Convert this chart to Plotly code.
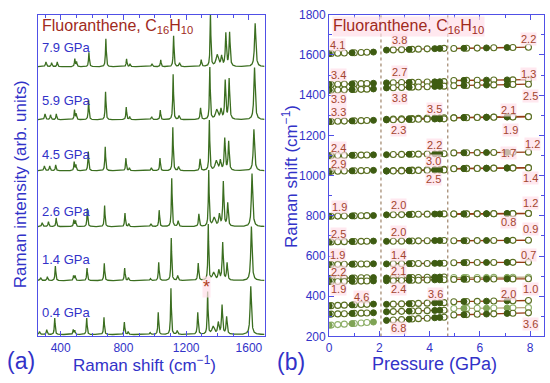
import numpy as np
import plotly.graph_objects as go

# ---------------- Panel (a): Raman spectra (peak lists) ----------------
spec_labels = ["0.4 GPa", "1.4 GPa", "2.6 GPa", "4.5 GPa", "5.9 GPa", "7.9 GPa"]
spec_offsets = [0, 56, 112, 170, 223, 278]

peak_pos_04 = [265, 311, 362, 480, 490, 566, 676, 806, 830, 970, 1022, 1103, 1143, 1274, 1337, 1372, 1405, 1429, 1458, 1612]
peak_pos_14 = [272, 315, 366, 482, 492, 568, 678, 808, 832, 972, 1025, 1105, 1146, 1277, 1341, 1375, 1408, 1433, 1461, 1616]
peak_pos_26 = [282, 322, 371, 484, 495, 570, 680, 810, 834, 975, 1028, 1108, 1149, 1281, 1344, 1378, 1412, 1437, 1465, 1620]
peak_pos_45 = [296, 330, 368, 486, 497, 576, 684, 816, 838, 978, 1033, 1115, 1152, 1289, 1348, 1392, 1418, 1446, 1471, 1632]
peak_pos_59 = [300, 335, 372, 488, 499, 578, 686, 818, 840, 980, 1035, 1117, 1155, 1292, 1351, 1395, 1422, 1449, 1474, 1636]
peak_pos_79 = [306, 342, 378, 490, 501, 580, 688, 820, 842, 982, 1038, 1120, 1158, 1296, 1355, 1398, 1426, 1453, 1477, 1640]

peak_h_04 = [3, 5, 17, 5, 4, 17, 18, 13, 3, 2, 23, 48, 4, 23, 44, 8, 12, 30, 18, 50]
peak_h_14 = [3, 4, 15, 5, 5, 13, 18, 13, 3, 2, 19, 44, 5, 18, 58, 8, 10, 39, 18, 56]
peak_h_26 = [4, 5, 9, 7, 6, 19, 22, 14, 3, 3, 17, 50, 6, 13, 58, 9, 12, 46, 24, 55]
peak_h_45 = [5, 5, 6, 9, 6, 20, 25, 13, 3, 3, 13, 45, 4, 12, 52, 10, 10, 33, 30, 43]
peak_h_59 = [6, 5, 6, 10, 6, 20, 29, 13, 3, 3, 10, 47, 4, 12, 54, 10, 10, 40, 42, 54]
peak_h_79 = [5, 4, 5, 8, 5, 15, 29, 8, 3, 3, 7, 32, 4, 7, 54, 12, 10, 34, 35, 45]

peak_w = [8, 7, 6, 6, 6, 6, 6, 6, 6, 8, 6, 6, 8, 7, 6, 18, 10, 8, 8, 10]

all_pos = [peak_pos_04, peak_pos_14, peak_pos_26, peak_pos_45, peak_pos_59, peak_pos_79]
all_h = [peak_h_04, peak_h_14, peak_h_26, peak_h_45, peak_h_59, peak_h_79]

# ---------------- Panel (b): pressure dependence ----------------
seg1_open_p = [0.08, 0.34, 0.6, 1.0, 1.27, 1.5]
seg1_fill_p = [0.0, 0.91, 1.76]
seg2_open_p = [2.55, 2.88, 3.3, 3.55, 3.9, 4.57]
seg2_fill_p = [2.28, 3.18, 4.2, 4.4]
seg3_open_p = [4.96, 5.47, 5.89, 6.55, 7.31, 7.93]
seg3_fill_p = [5.36, 6.26, 7.08]

seg1_f0 = [1607, 1453, 1424, 1269, 1099, 1021, 798, 670, 558, 489, 473, 353, 311, 256]
seg1_slope = [4.1, 3.4, 3.9, 3.3, 2.4, 2.9, 1.9, 2.5, 1.9, 2.2, 1.9, 4.6, 4.0, 9.0]
seg2_f0 = [1624, 1461, 1436, 1280, 1277, 1104, 1024, 1022, 805, 673, 561, 491, 477, 360, 323, 280]
seg2_slope = [3.8, 2.7, 3.8, 3.5, 2.3, 2.2, 3.0, 2.5, 2.0, 2.0, 1.4, 2.1, 2.4, 3.6, 3.4, 6.8]
seg3_f0 = [1632, 1473, 1447, 1288, 1287, 1113, 1035, 1034, 809, 809, 676, 567, 493, 484, 373, 339, 307]
seg3_slope = [2.2, 1.3, 2.5, 2.1, 1.9, 1.2, 1.7, 1.4, 1.2, 0.8, 0.9, 0.7, 0.6, 1.0, 2.0, 1.5, 3.6]

# label placements (mode index, pressure, shift)
seg1_lab = [(0, 0.34, 1648), (1, 0.36, 1499), (2, 0.36, 1379), (3, 0.36, 1314), (4, 0.36, 1139),
            (5, 0.36, 1058), (6, 0.4, 846), (7, 0.36, 712), (8, 0.32, 606), (9, 0.36, 520),
            (10, 0.36, 438), (11, 1.27, 395)]
seg2_lab = [(0, 2.81, 1675), (1, 2.81, 1513), (2, 2.81, 1388), (3, 4.2, 1331), (4, 2.77, 1226),
            (5, 4.2, 1153), (6, 4.16, 1072), (7, 4.16, 981), (8, 2.77, 856), (9, 2.77, 722),
            (10, 2.77, 606), (11, 2.77, 525), (12, 2.77, 438), (13, 4.24, 410), (15, 2.77, 242)]
seg3_lab = [(0, 7.92, 1680), (1, 7.92, 1503), (2, 8.0, 1398), (3, 7.13, 1325), (4, 7.21, 1226),
            (5, 8.08, 1158), (6, 7.13, 1110), (7, 8.0, 990), (8, 8.0, 866), (9, 7.13, 770),
            (10, 8.0, 736), (11, 7.92, 606), (13, 8.0, 438), (14, 7.13, 410), (16, 8.0, 261)]
seg_light = [[13], [], [12, 15]]
boundaries = [2.06, 4.72]

BLUE = "#3232c8"
AXBLUE = "#5050e6"
GREEN = "#3b6e20"
LABRED = "#a3452e"
PINK = "rgba(255,222,232,0.7)"
FONT = "Arial"

fig = go.Figure()

# ---- spectra ----
x = np.arange(255, 1700.5, 0.5)
for pos, hts, off in zip(all_pos, all_h, spec_offsets):
    y = np.full_like(x, float(off))
    for c, h, w in zip(pos, hts, peak_w):
        g = (w / 2.0) ** 2
        y = y + h * g / ((x - c) ** 2 + g)
    fig.add_trace(go.Scatter(x=x, y=y, mode="lines", line=dict(color=GREEN, width=1.3),
                             xaxis="x", yaxis="y", showlegend=False, hoverinfo="skip"))

# ---- pressure plot ----
segs = [
    (seg1_f0, seg1_slope, seg1_open_p, seg1_fill_p, "#6e5a2c"),
    (seg2_f0, seg2_slope, seg2_open_p, seg2_fill_p, "#7c4622"),
    (seg3_f0, seg3_slope, seg3_open_p, seg3_fill_p, "#953c14"),
]
for si, (f0s, sls, op, fp, lc) in enumerate(segs):
    allp = sorted(op + fp)
    p0, p1 = allp[0], allp[-1]
    for mi, (f0, s) in enumerate(zip(f0s, sls)):
        light = mi in seg_light[si]
        lcol = "#b9a27a" if light else lc
        ocol = "#8fb06a" if light else "#5a6f22"
        fcol = "#7fa455" if light else "#3e5c12"
        fig.add_trace(go.Scatter(x=[p0, p1], y=[f0, f0 + s * (p1 - p0)], mode="lines",
                                 line=dict(color=lcol, width=1.3), xaxis="x2", yaxis="y2",
                                 showlegend=False, hoverinfo="skip"))
        fig.add_trace(go.Scatter(x=op, y=[f0 + s * (p - p0) for p in op], mode="markers",
                                 marker=dict(symbol="circle", size=6, color="white",
                                             line=dict(color=ocol, width=1.1)),
                                 xaxis="x2", yaxis="y2", showlegend=False, hoverinfo="skip"))
        fig.add_trace(go.Scatter(x=fp, y=[f0 + s * (p - p0) for p in fp], mode="markers",
                                 marker=dict(symbol="circle", size=6, color=fcol,
                                             line=dict(color=fcol, width=1)),
                                 xaxis="x2", yaxis="y2", showlegend=False, hoverinfo="skip"))

annotations = []
for (labs, sls) in [(seg1_lab, seg1_slope), (seg2_lab, seg2_slope), (seg3_lab, seg3_slope)]:
    for mi, px, py in labs:
        annotations.append(dict(x=px, y=py, xref="x2", yref="y2", text=f"{sls[mi]:.1f}",
                                showarrow=False, font=dict(family=FONT, size=11, color=LABRED),
                                bgcolor=PINK, borderpad=0))

shapes = []
for b in boundaries:
    shapes.append(dict(type="line", xref="x2", yref="y2", x0=b, x1=b, y0=200, y1=1800,
                       line=dict(color="#8a6a4a", width=1, dash="dot")))


def P(px, py):
    return px / 550.0, 1 - py / 383.0


def pann(px, py, text, size, color, xanchor="center", angle=0, bg=None):
    xp, yp = P(px, py)
    d = dict(x=xp, y=yp, xref="paper", yref="paper", text=text, showarrow=False,
             xanchor=xanchor, yanchor="middle", textangle=angle,
             font=dict(family=FONT, size=size, color=color))
    if bg:
        d["bgcolor"] = bg
        d["borderpad"] = 0
    annotations.append(d)


# spectrum labels
lab_y = [317, 262, 212, 153, 97, 42]
for t, yy in zip(spec_labels, lab_y):
    pann(37, yy, t, 13, BLUE, xanchor="left")

pann(37, 20, "Fluoranthene, C<sub>16</sub>H<sub>10</sub>", 16, "#a02a1c", xanchor="left")
pann(331, 20, "Fluoranthene, C<sub>16</sub>H<sub>10</sub>", 16, "#a02a1c", xanchor="left", bg=PINK)
pann(205, 291, "*", 18, "#b0401c", bg=PINK)

pann(18, 367, "(a)", 23, BLUE)
pann(290, 368, "(b)", 23, BLUE)
pann(142, 371, "Raman shift (cm<sup>−1</sup>)", 17, BLUE)
pann(434, 371, "Pressure (GPa)", 18, BLUE)
pann(17, 184, "Raman intensity (arb. units)", 17, BLUE, angle=-90)
pann(288, 176, "Raman shift (cm<sup>−1</sup>)", 17, BLUE, angle=-90)

ytop, ybot = 8, 342
ydom = [1 - ybot / 383.0, 1 - ytop / 383.0]

axcommon = dict(showline=True, linecolor=AXBLUE, linewidth=1.2, mirror="allticks",
                ticks="inside", ticklen=5, tickcolor=AXBLUE, showgrid=False, zeroline=False,
                tickfont=dict(family=FONT, size=12, color=BLUE))

fig.update_layout(
    width=550, height=383, autosize=False,
    margin=dict(l=0, r=0, t=0, b=0, pad=0),
    paper_bgcolor="white", plot_bgcolor="white",
    xaxis=dict(domain=[35 / 550, 263 / 550], range=[254, 1700], tickvals=[400, 800, 1200, 1600],
               minor=dict(ticks="inside", ticklen=3, tickcolor=AXBLUE, dtick=100, tick0=0),
               anchor="y", **axcommon),
    yaxis=dict(domain=ydom, range=[-2, 332], showticklabels=False, anchor="x",
               showline=True, linecolor=AXBLUE, linewidth=1.2, mirror=True, ticks="",
               showgrid=False, zeroline=False),
    xaxis2=dict(domain=[328 / 550, 544 / 550], range=[0, 8.55], tickvals=[0, 2, 4, 6, 8],
                minor=dict(ticks="inside", ticklen=3, tickcolor=AXBLUE, dtick=1, tick0=0),
                anchor="y2", **axcommon),
    yaxis2=dict(domain=ydom, range=[200, 1800], dtick=200, tick0=200,
                minor=dict(ticks="inside", ticklen=3, tickcolor=AXBLUE, dtick=100, tick0=0),
                anchor="x2", **axcommon),
    annotations=annotations,
    shapes=shapes,
)

fig.write_html("out.html", config={"displayModeBar": False},
               post_script="document.body.style.margin='0';document.body.style.padding='0';"
                           "document.body.style.overflow='hidden';")
